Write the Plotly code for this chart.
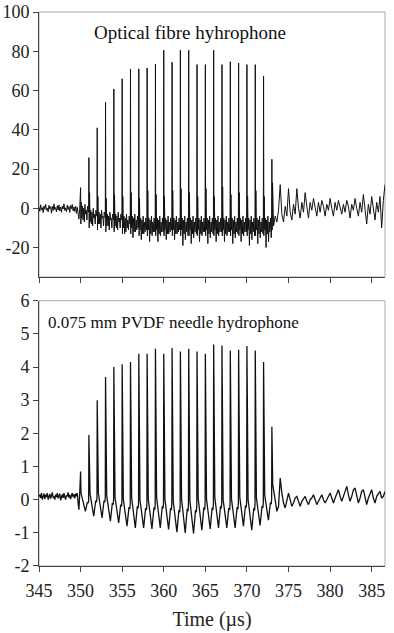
import plotly.graph_objects as go

# ---------------- data ----------------
pulse_times = list(range(350, 374))  # one pulse per microsecond, 350..373

# Optical fibre hydrophone (top panel)
top_peaks = [10.5, 25.8, 41, 54, 60.8, 66, 71, 71, 71.5, 73.5, 80.5, 74.4,
             80.5, 80.5, 73.2, 73.2, 80.5, 73.2, 74.7, 74, 73.2, 73.2, 67.3, 25]
top_levels = [-2, -4, -5, -6, -6, -7, -7, -8, -8, -8, -8, -8,
              -8, -8, -8, -8, -8, -8, -8, -8, -8, -8, -8, -5]
top_troughs = [-6, -8, -8, -9, -10, -13, -15, -16, -17, -17, -16, -16,
               -19, -18, -17, -18, -17, -17, -18, -17, -19, -18, -20, -10]
top_bumps = [3, 8, 6, 5, 7, 6, 8, 5, 9, 7, 6, 9,
             10, 8, 6, 10, 6, 11, 7, 8, 6, 9, 6, 13]
top_pre = [0.5, -1.5, 1.8, -0.8, 0.3, -2.2, 1.2, -0.5, 2.0, -1.0, 0.0, -1.8,
           1.5, -0.3, 0.8, -2.5, 1.0, -1.2, 2.2, -0.6, 0.4, -1.9, 1.3, -0.9,
           1.7, -1.4, 0.6, -2.0, 1.1, -0.4, 2.3, -1.1, 0.2, -1.7, 1.6, -0.7,
           0.9, -2.1, 1.4, -0.2, 1.9, -1.3, 0.7, -1.6, 1.0, -2.6, 0.5,
           -4.0, -5.5, 0.0]
top_post = [-9, -4, -7, -1, 12, -3, -7, 1, -4, 10, -2, -6, 2, -3, 10, 0, -5, 3,
            -2, 8, 1, -5, 3, -1, 5, 0, -4, 3, -2, 4, 1, -4, 2, -1, 5, 0, -4, 3,
            -1, 4, 0, -3, 2, -2, 4, 1, -5, 2, -1, 5, 0, -4, 3, -2, 7, -1, -8, 2,
            -3, 6, -1, -6, 3, -2, 6, -10, 4, 12]

# 0.075 mm PVDF needle hydrophone (bottom panel)
bot_peaks = [0.85, 1.95, 3.0, 3.7, 4.0, 4.08, 4.15, 4.4, 4.4, 4.55, 4.4, 4.57,
             4.47, 4.55, 4.47, 4.4, 4.68, 4.65, 4.5, 4.52, 4.63, 4.5, 4.15, 2.2]
bot_troughs = [-0.35, -0.5, -0.55, -0.65, -0.7, -0.8, -0.85, -0.85, -0.88, -0.85,
               -0.9, -0.98, -1.0, -1.02, -0.92, -0.88, -0.85, -0.85, -0.85, -0.8,
               -0.92, -0.78, -0.62, -0.4]
bot_shoulders = [0.2, 0.45, 0.5, 0.45, 0.4, 0.35, 0.45, 0.35, 0.4, 0.45, 0.4, 0.35,
                 0.45, 0.4, 0.45, 0.4, 0.45, 0.35, 0.4, 0.45, 0.4, 0.4, 0.45, 0.5]
bot_pre = [0.1, 0.15, 0.05, 0.2, 0.0, 0.12, 0.18, 0.02, 0.15, 0.08, 0.2, 0.0,
           0.1, 0.17, 0.03, 0.14, 0.22, 0.05, 0.1, 0.0, 0.15, 0.08, 0.2, 0.04,
           0.12, 0.18, -0.02, 0.1, 0.16, 0.05, 0.2, 0.08, 0.0, 0.14, 0.1, 0.22,
           0.06, 0.15, 0.02, 0.12, 0.2, 0.08, 0.16, 0.04, 0.18, 0.1, 0.2,
           -0.1, -0.3, 0.2]
bot_post = [0.3, -0.1, -0.35, -0.2, 0.65, 0.2, -0.1, -0.25, -0.05, 0.2, 0.0, -0.2,
            -0.1, 0.05, 0.1, -0.05, -0.2, -0.05, 0.05, 0.1, -0.05, -0.15, 0.0, 0.05,
            0.15, 0.0, -0.15, -0.05, 0.05, 0.15, 0.0, -0.1, 0.0, 0.1, 0.2, 0.05,
            -0.1, 0.05, 0.15, 0.3, 0.1, -0.05, 0.1, 0.25, 0.4, 0.15, -0.05, 0.1,
            0.3, 0.35, 0.1, -0.1, 0.05, 0.25, 0.3, 0.05, -0.15, 0.05, 0.2, 0.3,
            0.05, -0.1, 0.1, 0.2, 0.25, 0.05, 0.1, 0.25]

top_ticks = [-20, 0, 20, 40, 60, 80, 100]
bot_ticks = [-2, -1, 0, 1, 2, 3, 4, 5, 6]
x_ticks = [345, 350, 355, 360, 365, 370, 375, 380, 385]

# ---------------- build traces from the read values ----------------
def build_top():
    xs, ys = [], []
    for i, v in enumerate(top_pre):
        xs.append(345.0 + 0.1 * i); ys.append(v)
    for t, P, L, T, B in zip(pulse_times, top_peaks, top_levels, top_troughs, top_bumps):
        pts = [(0.0, P), (0.035, L - 6), (0.08, B), (0.14, L - 3), (0.22, L + 3),
               (0.30, T), (0.37, L + 2), (0.45, L - 5), (0.52, L + 4), (0.60, T + 3),
               (0.68, L + 1), (0.76, L - 4), (0.84, L + 3), (0.92, T + 5), (0.97, L)]
        if t == pulse_times[-1]:
            pts = pts[:3]
        for dt, v in pts:
            xs.append(t + dt); ys.append(v)
    for i, v in enumerate(top_post):
        xs.append(373.2 + 0.2 * i); ys.append(v)
    return xs, ys

def build_bot():
    xs, ys = [], []
    for i, v in enumerate(bot_pre):
        xs.append(345.0 + 0.1 * i); ys.append(v)
    for t, P, T, S in zip(pulse_times, bot_peaks, bot_troughs, bot_shoulders):
        fr = [(0.14, 0.3), (0.30, 0.55), (0.45, 0.8), (0.58, 1.0), (0.70, 0.75),
              (0.82, 0.5), (0.92, 0.55), (0.97, 0.4)]
        xs += [t, t + 0.05, t + 0.1]; ys += [P, S, S - 0.05]
        if t == pulse_times[-1]:
            continue
        for dt, f in fr:
            xs.append(t + dt); ys.append(S + f * (T - S))
    for i, v in enumerate(bot_post):
        xs.append(373.2 + 0.2 * i); ys.append(v)
    return xs, ys

tx, ty = build_top()
bx, by = build_bot()

FONT = "Liberation Serif"
fig = go.Figure()
fig.add_trace(go.Scatter(x=tx, y=ty, mode="lines", line=dict(color="#111111", width=1),
                         xaxis="x", yaxis="y", showlegend=False))
fig.add_trace(go.Scatter(x=bx, y=by, mode="lines", line=dict(color="#111111", width=1.3),
                         xaxis="x2", yaxis="y2", showlegend=False))

axis_common = dict(showgrid=False, zeroline=False, showline=True, linecolor="#444444",
                   linewidth=1, ticks="outside", ticklen=5, tickcolor="#444444",
                   automargin=False,
                   tickfont=dict(family=FONT, size=18, color="#222222"))

fig.update_layout(
    width=394, height=633,
    margin=dict(l=39, r=9, t=12, b=67),
    paper_bgcolor="white", plot_bgcolor="white",
    font=dict(family=FONT, color="#222222"),
    xaxis=dict(domain=[0, 1], anchor="y", range=[345, 386.6], tickvals=x_ticks,
               showticklabels=False, **axis_common),
    yaxis=dict(domain=[0.5217, 1.0], anchor="x", range=[-35, 100], tickvals=top_ticks,
               ticktext=[str(v) for v in top_ticks], **axis_common),
    xaxis2=dict(domain=[0, 1], anchor="y2", range=[345, 386.6], tickvals=x_ticks,
                ticktext=[str(v) for v in x_ticks], ticklabelstandoff=3,
                title=dict(text="Time (\u00b5s)", font=dict(family=FONT, size=20, color="#222222"),
                           standoff=12),
                **axis_common),
    yaxis2=dict(domain=[0, 0.4789], anchor="x2", range=[-2, 6], tickvals=bot_ticks,
                ticktext=[str(v) for v in bot_ticks], **axis_common),
    shapes=[
        dict(type="rect", xref="x domain", yref="y domain", x0=0, x1=1, y0=0, y1=1,
             line=dict(color="#aaaaaa", width=1), layer="below"),
        dict(type="rect", xref="x2 domain", yref="y2 domain", x0=0, x1=1, y0=0, y1=1,
             line=dict(color="#aaaaaa", width=1), layer="below"),
    ],
    annotations=[
        dict(text="Optical fibre hyhrophone", xref="x domain", yref="y", x=0.152, y=89.5,
             xanchor="left", yanchor="middle", showarrow=False,
             font=dict(family=FONT, size=19, color="#111111")),
        dict(text="0.075 mm PVDF needle hydrophone", xref="x2 domain", yref="y2", x=0.02, y=5.33,
             xanchor="left", yanchor="middle", showarrow=False,
             font=dict(family=FONT, size=17, color="#111111")),
    ],
)

fig.write_html("out.html", config={"displayModeBar": False},
               post_script="document.body.style.margin='0';")
